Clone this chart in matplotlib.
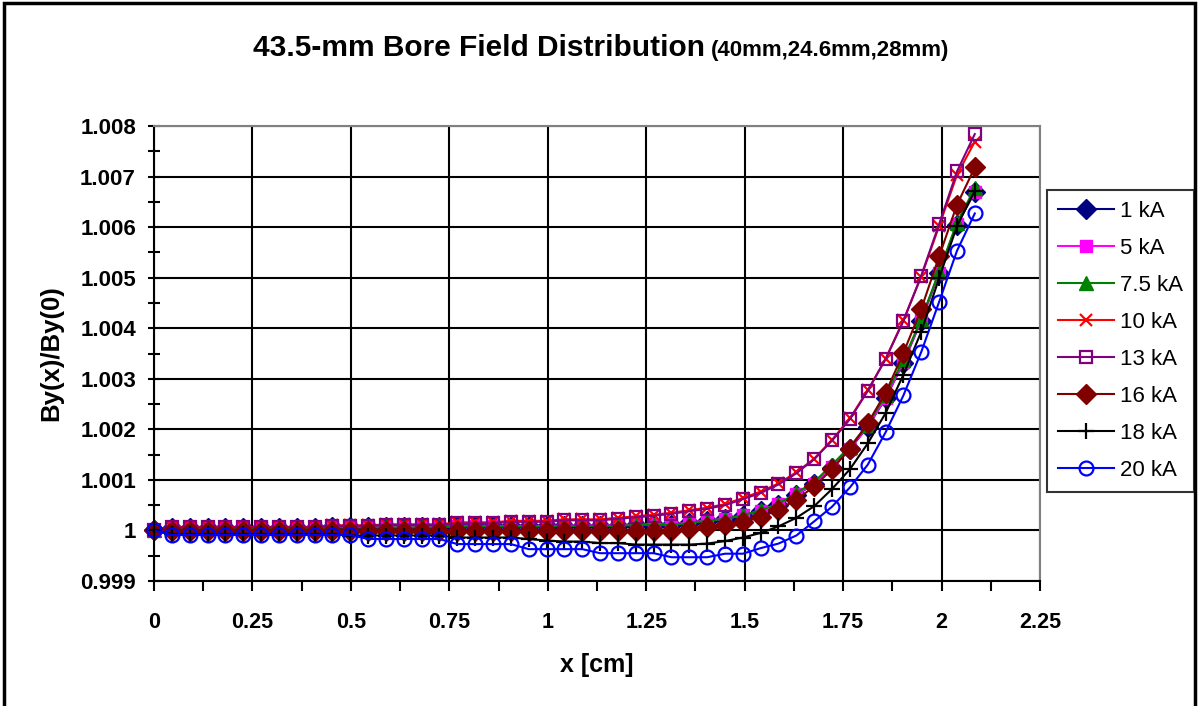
import matplotlib
matplotlib.use("Agg")
import matplotlib.pyplot as plt
from matplotlib.patches import Rectangle

plt.rcParams['font.family'] = ['Liberation Sans', 'DejaVu Sans']

# x positions [cm]
x_cm = [0, 0.0453, 0.0906, 0.1359, 0.1813, 0.2266, 0.2719, 0.3172, 0.3625, 0.4078,
        0.4531, 0.4984, 0.5438, 0.5891, 0.6344, 0.6797, 0.725, 0.7703, 0.8156, 0.8609,
        0.9063, 0.9516, 0.9969, 1.0422, 1.0875, 1.1328, 1.1781, 1.2234, 1.2688, 1.3141,
        1.3594, 1.4047, 1.45, 1.4953, 1.5406, 1.5859, 1.6313, 1.6766, 1.7219, 1.7672,
        1.8125, 1.8578, 1.9031, 1.9484, 1.9938, 2.0391, 2.0844]

by_1ka = [1.0, 1.00004, 1.00004, 1.00004, 1.00004, 1.00004, 1.00004, 1.00004, 1.00004, 1.00004,
          1.00006, 1.00006, 1.00006, 1.00006, 1.00006, 1.00006, 1.00006, 1.00008, 1.00008, 1.00008,
          1.00008, 1.00008, 1.00008, 1.00009, 1.00009, 1.00009, 1.00009, 1.00011, 1.00011, 1.00011,
          1.00015, 1.00019, 1.00022, 1.00029, 1.00038, 1.00051, 1.00071, 1.00091, 1.00124, 1.00161,
          1.00205, 1.00261, 1.00332, 1.00415, 1.00509, 1.00605, 1.00669]

by_5ka = [1.0, 1.00005, 1.00005, 1.00005, 1.00005, 1.00005, 1.00005, 1.00005, 1.00005, 1.00005,
          1.00007, 1.00007, 1.00007, 1.00007, 1.00007, 1.00007, 1.00007, 1.00009, 1.00009, 1.00009,
          1.00009, 1.00009, 1.00009, 1.0001, 1.0001, 1.0001, 1.0001, 1.00012, 1.00012, 1.00012,
          1.00016, 1.0002, 1.00023, 1.0003, 1.00039, 1.00052, 1.00072, 1.00092, 1.00125, 1.00162,
          1.00206, 1.00262, 1.00333, 1.00416, 1.0051, 1.00606, 1.0067]

by_7_5ka = [1.0, 1.00004, 1.00004, 1.00004, 1.00004, 1.00004, 1.00004, 1.00004, 1.00004, 1.00004,
            1.00006, 1.00006, 1.00006, 1.00006, 1.00006, 1.00006, 1.00006, 1.00008, 1.00008, 1.00008,
            1.00008, 1.00008, 1.00008, 1.00009, 1.00009, 1.00009, 1.00009, 1.00011, 1.00011, 1.00011,
            1.00015, 1.00019, 1.00023, 1.0003, 1.0004, 1.00053, 1.00074, 1.00096, 1.0013, 1.00166,
            1.00209, 1.00268, 1.00337, 1.00418, 1.00512, 1.00609, 1.00677]

by_10ka = [1.0, 1.00007, 1.00007, 1.00007, 1.00007, 1.00007, 1.00007, 1.00007, 1.00007, 1.00007,
           1.0001, 1.0001, 1.0001, 1.00012, 1.00012, 1.00012, 1.00012, 1.00016, 1.00016, 1.00016,
           1.00019, 1.00019, 1.00019, 1.00022, 1.00022, 1.00022, 1.00025, 1.00028, 1.00031, 1.00035,
           1.0004, 1.00045, 1.00052, 1.00064, 1.00077, 1.00093, 1.00115, 1.00142, 1.00179, 1.00222,
           1.00277, 1.00339, 1.00416, 1.00502, 1.00602, 1.00703, 1.00769]

by_13ka = [1.0, 1.00006, 1.00006, 1.00006, 1.00006, 1.00006, 1.00006, 1.00006, 1.00006, 1.00006,
           1.00009, 1.00009, 1.00009, 1.00011, 1.00011, 1.00011, 1.00011, 1.00014, 1.00014, 1.00014,
           1.00017, 1.00017, 1.00017, 1.0002, 1.0002, 1.0002, 1.00023, 1.00026, 1.00029, 1.00033,
           1.00038, 1.00043, 1.0005, 1.00062, 1.00074, 1.00091, 1.00113, 1.00141, 1.00178, 1.0022,
           1.00276, 1.00339, 1.00414, 1.00504, 1.00606, 1.0071, 1.00784]

by_16ka = [1.0, 0.99999, 0.99999, 0.99999, 0.99999, 0.99999, 0.99999, 0.99999, 0.99999, 0.99999,
           0.99998, 0.99998, 0.99998, 0.99998, 0.99998, 0.99998, 0.99998, 0.99998, 0.99998, 0.99998,
           0.99998, 0.99998, 0.99998, 0.99998, 0.99998, 0.99998, 0.99998, 0.99998, 0.99998, 0.99998,
           1.00003, 1.00007, 1.0001, 1.00017, 1.00026, 1.00041, 1.00061, 1.00087, 1.00121, 1.00162,
           1.00212, 1.00272, 1.00351, 1.00438, 1.00542, 1.00644, 1.00718]

by_18ka = [1.0, 0.99993, 0.99993, 0.99993, 0.99993, 0.99993, 0.99993, 0.99993, 0.99993, 0.99993,
           0.99993, 0.9999, 0.9999, 0.9999, 0.9999, 0.9999, 0.9999, 0.99986, 0.99986, 0.99986,
           0.99986, 0.99983, 0.9998, 0.99978, 0.99978, 0.99975, 0.99975, 0.99972, 0.99972, 0.99972,
           0.99972, 0.99974, 0.99979, 0.99986, 0.99995, 1.00008, 1.00025, 1.00048, 1.00082, 1.00121,
           1.00172, 1.00232, 1.00308, 1.00393, 1.00499, 1.00602, 1.00672]

by_20ka = [1.0, 0.99991, 0.99991, 0.99991, 0.99991, 0.99991, 0.99991, 0.99991, 0.99991, 0.99991,
           0.99991, 0.99991, 0.99983, 0.99983, 0.99983, 0.99983, 0.99983, 0.99973, 0.99973, 0.99973,
           0.99973, 0.99963, 0.99963, 0.99963, 0.99963, 0.99955, 0.99955, 0.99955, 0.99955, 0.99947,
           0.99947, 0.99947, 0.99954, 0.99954, 0.99965, 0.99974, 0.9999, 1.00018, 1.00047, 1.00085,
           1.0013, 1.00194, 1.00267, 1.00353, 1.00452, 1.00553, 1.00627]

labels = ['1 kA', '5 kA', '7.5 kA', '10 kA', '13 kA', '16 kA', '18 kA', '20 kA']
x_ticks = [0, 0.25, 0.5, 0.75, 1, 1.25, 1.5, 1.75, 2, 2.25]
x_tick_labels = ['0', '0.25', '0.5', '0.75', '1', '1.25', '1.5', '1.75', '2', '2.25']
y_ticks = [0.999, 1.0, 1.001, 1.002, 1.003, 1.004, 1.005, 1.006, 1.007, 1.008]
y_tick_labels = ['0.999', '1', '1.001', '1.002', '1.003', '1.004', '1.005', '1.006', '1.007', '1.008']

series = [by_1ka, by_5ka, by_7_5ka, by_10ka, by_13ka, by_16ka, by_18ka, by_20ka]
styles = [
    dict(color='#000080', marker='D', ms=10, mfc='#000080', mec='#000080'),
    dict(color='#FF00FF', marker='s', ms=8.5, mfc='#FF00FF', mec='#FF00FF'),
    dict(color='#008000', marker='^', ms=10, mfc='#008000', mec='#008000'),
    dict(color='#FF0000', marker='x', ms=9, mew=1.6),
    dict(color='#800080', marker='s', ms=9, mfc='none', mec='#800080', mew=1.6),
    dict(color='#800000', marker='D', ms=10, mfc='#800000', mec='#800000'),
    dict(color='#000000', marker='+', ms=11, mew=1.6),
    dict(color='#0000FF', marker='o', ms=10, mfc='none', mec='#0000FF', mew=1.6),
]

fig = plt.figure(figsize=(11.99, 7.06), dpi=100)
ax = fig.add_axes([154 / 1199, 1 - 581 / 706, (1040 - 154) / 1199, (581 - 126) / 706])

for ys, lab, st in zip(series, labels, styles):
    ax.plot(x_cm, ys, lw=1.5, label=lab, clip_on=False, **st)

ax.set_xlim(0, 2.25)
ax.set_ylim(0.999, 1.008)
ax.set_xticks(x_ticks)
ax.set_xticklabels(x_tick_labels, fontsize=15.5, fontweight='bold')
ax.set_yticks(y_ticks)
ax.set_yticklabels(y_tick_labels, fontsize=16, fontweight='bold')
ax.set_xticks([0.125, 0.375, 0.625, 0.875, 1.125, 1.375, 1.625, 1.875, 2.125], minor=True)
ax.set_yticks([0.9995, 1.0005, 1.0015, 1.0025, 1.0035, 1.0045, 1.0055, 1.0065, 1.0075], minor=True)
ax.tick_params(which='both', direction='inout', length=8, width=1.5, color='black')
ax.tick_params(axis='x', which='both', direction='out', length=7)
ax.tick_params(axis='x', pad=15)
ax.tick_params(axis='y', pad=9)
ax.grid(True, which='major', color='black', lw=1.5)

for side in ['left', 'bottom']:
    ax.spines[side].set_color('black')
    ax.spines[side].set_linewidth(1.5)
for side in ['top', 'right']:
    ax.spines[side].set_color('#808080')
    ax.spines[side].set_linewidth(1.5)

ax.set_xlabel('x [cm]', fontsize=18, fontweight='bold', labelpad=15)
ax.set_ylabel('By(x)/By(0)', fontsize=18.5, fontweight='bold', labelpad=12)

# title: main part + smaller subtitle placed right after it
title = fig.text(253 / 1199, 1 - 56 / 706, '43.5-mm Bore Field Distribution', fontsize=21.5,
                 fontweight='bold', ha='left', va='baseline')
fig.canvas.draw()
bb = title.get_window_extent()
fig.text((bb.x1 + 6) / 1199, 1 - 56 / 706, '(40mm,24.6mm,28mm)', fontsize=16,
         fontweight='bold', ha='left', va='baseline')

leg = fig.legend(loc='upper left', bbox_to_anchor=(1047 / 1199, 1 - 190 / 706),
                 fontsize=16, frameon=True, fancybox=False, edgecolor='black',
                 handlelength=2.5, labelspacing=0.72, borderpad=0.5, handletextpad=0.3,
                 borderaxespad=0)
leg.get_frame().set_linewidth(1.5)

fig.patches.append(Rectangle((4 / 1199, -0.05), 1191 / 1199, 1.05 - 3 / 706,
                             transform=fig.transFigure, fill=False, ec='black', lw=2.5))

fig.savefig('out.png', dpi=100)
